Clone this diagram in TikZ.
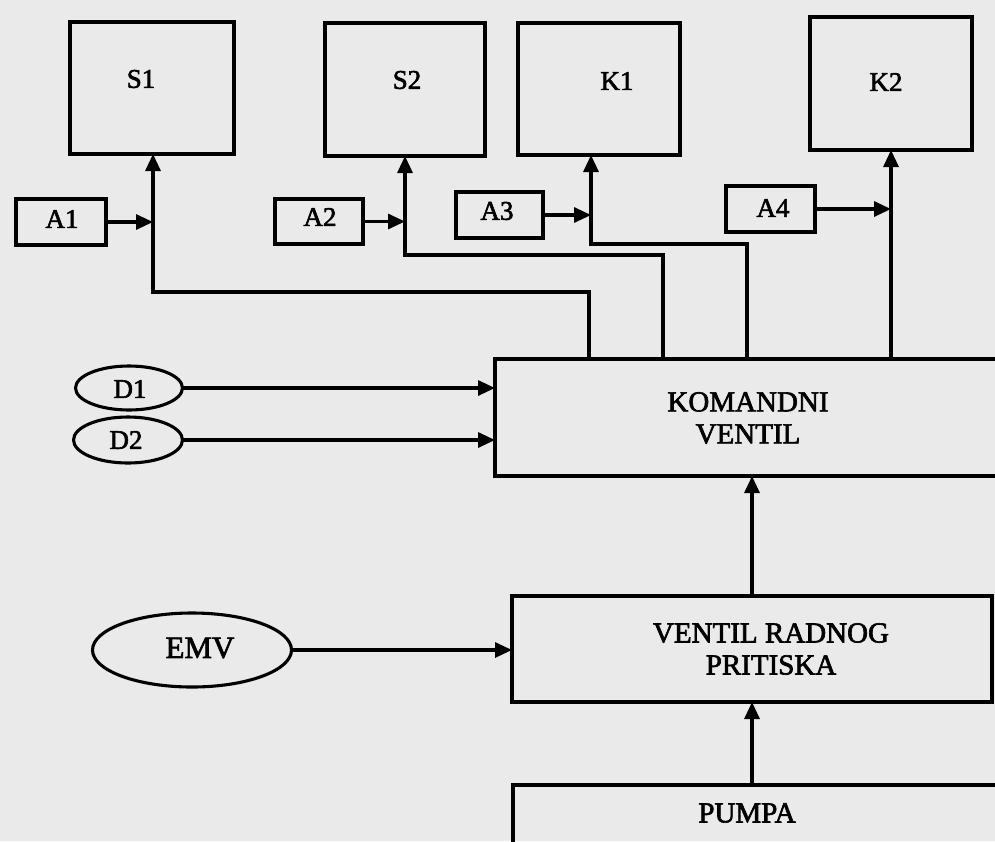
\documentclass[tikz,border=0pt]{standalone}
\usepackage{fontspec}
\setmainfont{Liberation Serif}
\newfontfamily\heavy[FakeBold=2.2]{Liberation Serif}
\usetikzlibrary{arrows.meta,shapes.geometric}
\definecolor{bgpaper}{RGB}{234,234,234}
\begin{document}
\begin{tikzpicture}[x=1pt,y=-1pt,
  box/.style={draw=black, line width=3.2pt, inner sep=0pt, outer sep=0pt},
  oval/.style={draw=black, ellipse, line width=3.1pt, inner sep=0pt, outer sep=0pt},
  lbl/.style={font=\heavy\fontsize{27}{32}\selectfont, align=center, inner sep=0pt},
  biglbl/.style={font=\heavy\fontsize{29}{32}\selectfont, align=center, inner sep=0pt},
  conn/.style={line width=3.2pt, draw=black},
  arr/.style={conn, -{Triangle[length=17pt,width=15pt]}}]
\path[use as bounding box] (0,0) rectangle (995,841);
\clip (0,0) rectangle (995,841);
\fill[bgpaper] (0,0) rectangle (995,841);

% upper boxes
\node[box, minimum width=164pt, minimum height=132pt] (S1) at (152,88) {};
\node[box, minimum width=160pt, minimum height=133pt] (S2) at (405,89.5) {};
\node[box, minimum width=162pt, minimum height=132pt] (K1) at (599,89) {};
\node[box, minimum width=162pt, minimum height=133pt] (K2) at (891,83.5) {};
\node[lbl] (S1t) at (141,79) {S1};
\node[lbl] (S2t) at (407,80) {S2};
\node[lbl] (K1t) at (617,81) {K1};
\node[lbl] (K2t) at (886,82) {K2};

% small boxes
\node[box, minimum width=90pt, minimum height=46pt] (A1) at (61,222) {};
\node[box, minimum width=88pt, minimum height=45pt] (A2) at (319,221.5) {};
\node[box, minimum width=87pt, minimum height=46pt] (A3) at (499.5,215) {};
\node[box, minimum width=89pt, minimum height=46pt] (A4) at (770.5,209) {};
\node[lbl] (A1t) at (62,219) {A1};
\node[lbl] (A2t) at (320,217) {A2};
\node[lbl] (A3t) at (497,211) {A3};
\node[lbl] (A4t) at (773,208) {A4};

% main boxes
\node[box, minimum width=515pt, minimum height=117pt] (KV) at (752.5,417.5) {};
\node[box, minimum width=480pt, minimum height=106pt] (VRP) at (752,649) {};
\node[box, minimum width=497pt, minimum height=85pt] (PU) at (761.5,827.5) {};
\node[biglbl] (KVt) at (748,418) {KOMANDNI\\VENTIL};
\node[biglbl] (VRPt) at (771,649) {VENTIL RADNOG\\PRITISKA};
\node[biglbl] (PUt) at (747,813) {PUMPA};

% ovals
\node[oval, minimum width=107pt, minimum height=44pt] (D1) at (129,388) {};
\node[oval, minimum width=109pt, minimum height=46pt] (D2) at (128,440) {};
\node[oval, minimum width=199pt, minimum height=74pt] (EMV) at (192,650) {};
\node[lbl] (D1t) at (130,389) {D1};
\node[lbl] (D2t) at (126,440) {D2};
\node[lbl, font=\heavy\fontsize{31}{34}\selectfont] (EMVt) at (200,648) {EMV};

% routing points
\coordinate (cS1) at (589,292);
\coordinate (tS1) at (153,292);
\coordinate (cS2) at (663,255);
\coordinate (tS2) at (405,255);
\coordinate (cK1) at (747,244);
\coordinate (tK1) at (591,244);
\coordinate (xPU) at (752,0);

% connectors from KOMANDNI VENTIL to actuators
\draw[arr] (KV.north -| cS1) -- (cS1) -- (tS1) -- (S1.south -| tS1);
\draw[arr] (KV.north -| cS2) -- (cS2) -- (tS2) -- (S2.south -| tS2);
\draw[arr] (KV.north -| cK1) -- (cK1) -- (tK1) -- (K1.south -| tK1);
\draw[arr] (KV.north -| K2.south) -- (K2.south);

\draw[arr] (A1.east) -- (A1.east -| tS1);
\draw[arr] (A2.east) -- (A2.east -| tS2);
\draw[arr] (A3.east) -- (A3.east -| tK1);
\draw[arr] (A4.east) -- (A4.east -| K2.south);

\draw[arr] (D1.east) -- (D1.east -| KV.west);
\draw[arr] (D2.east) -- (D2.east -| KV.west);
\draw[arr] (EMV.east) -- (EMV.east -| VRP.west);
\draw[arr] (VRP.north -| xPU) -- (KV.south -| xPU);
\draw[arr] (PU.north -| xPU) -- (VRP.south -| xPU);
\end{tikzpicture}
\end{document}
